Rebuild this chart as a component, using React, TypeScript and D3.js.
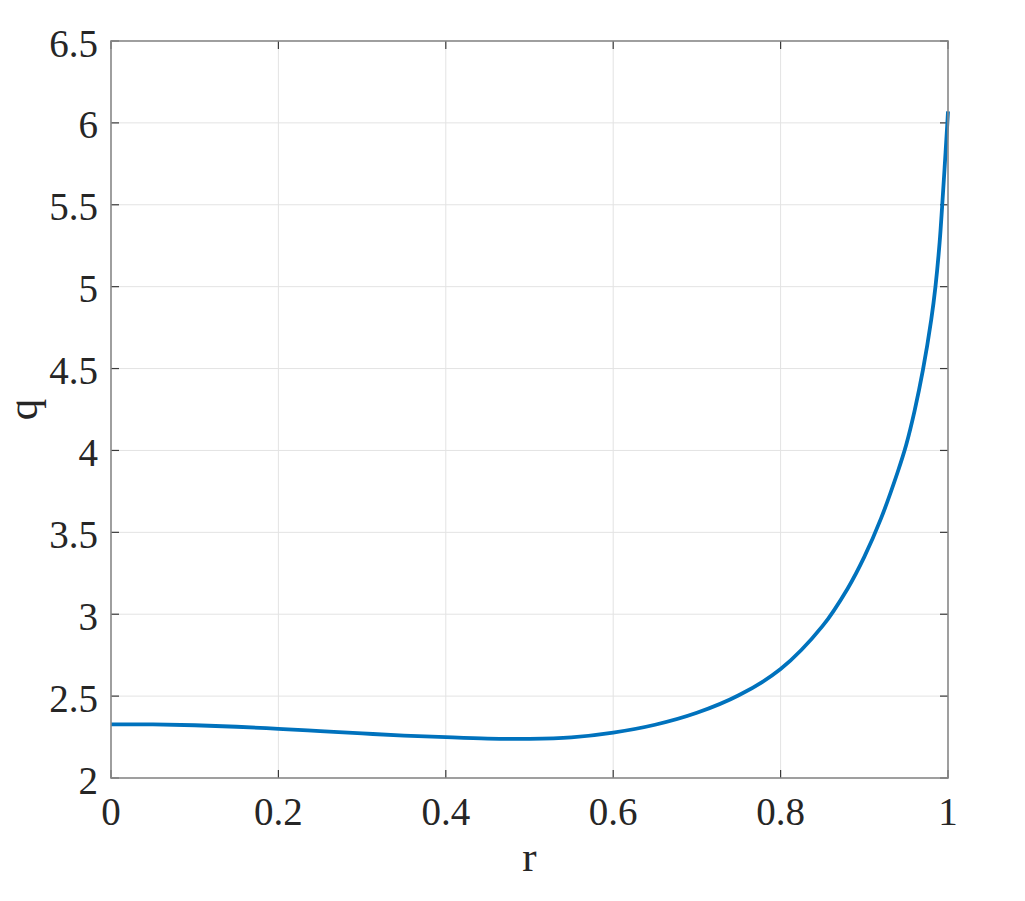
import { useEffect, useRef } from "react";
import * as d3 from "d3";

// radius samples and q values
const rValues = [0, 0.05, 0.1, 0.15, 0.2, 0.25, 0.3, 0.35, 0.4, 0.45, 0.5, 0.55, 0.6, 0.65, 0.7, 0.75, 0.8, 0.85, 0.88, 0.9, 0.92, 0.94, 0.95, 0.96, 0.97, 0.98, 0.985, 0.99, 0.993, 0.996, 0.999, 1];
const qValues = [2.328, 2.327, 2.322, 2.313, 2.3, 2.286, 2.272, 2.259, 2.249, 2.241, 2.239, 2.248, 2.277, 2.325, 2.398, 2.505, 2.665, 2.927, 3.156, 3.35, 3.585, 3.87, 4.033, 4.24, 4.49, 4.8, 5.0, 5.27, 5.49, 5.73, 5.98, 6.07];

const xTicks = [0, 0.2, 0.4, 0.6, 0.8, 1];
const yTicks = [2, 2.5, 3, 3.5, 4, 4.5, 5, 5.5, 6, 6.5];
const xLabel = "r";
const yLabel = "q";

export default function App() {
  const ref = useRef<SVGSVGElement>(null);

  useEffect(() => {
    const width = 1025;
    const height = 901;
    const margin = { top: 41, right: 77, bottom: 123, left: 111 };
    const svg = d3.select(ref.current);
    svg.selectAll("*").remove();

    const x = d3.scaleLinear().domain([0, 1]).range([margin.left, width - margin.right]);
    const y = d3.scaleLinear().domain([2, 6.5]).range([height - margin.bottom, margin.top]);
    const [x0, x1] = x.range();
    const [y0, y1] = y.range();

    const font = "'Liberation Serif', 'Times New Roman', serif";
    const tickLen = 8;

    // grid
    const grid = svg.append("g").attr("stroke", "#e3e3e3").attr("stroke-width", 1);
    xTicks.slice(1, -1).forEach(t => {
      grid.append("line").attr("x1", x(t)).attr("x2", x(t)).attr("y1", y0).attr("y2", y1);
    });
    yTicks.slice(1, -1).forEach(t => {
      grid.append("line").attr("x1", x0).attr("x2", x1).attr("y1", y(t)).attr("y2", y(t));
    });

    // ticks, inward on all four sides
    const ticks = svg.append("g").attr("stroke", "#3a3a3a").attr("stroke-width", 1.2);
    xTicks.forEach(t => {
      ticks.append("line").attr("x1", x(t)).attr("x2", x(t)).attr("y1", y0).attr("y2", y0 - tickLen);
      ticks.append("line").attr("x1", x(t)).attr("x2", x(t)).attr("y1", y1).attr("y2", y1 + tickLen);
    });
    yTicks.forEach(t => {
      ticks.append("line").attr("x1", x0).attr("x2", x0 + tickLen).attr("y1", y(t)).attr("y2", y(t));
      ticks.append("line").attr("x1", x1).attr("x2", x1 - tickLen).attr("y1", y(t)).attr("y2", y(t));
    });

    // curve
    const line = d3.line<number>()
      .x((_, i) => x(rValues[i]))
      .y(d => y(d))
      .curve(d3.curveCatmullRom.alpha(0.5));
    svg.append("path")
      .datum(qValues)
      .attr("d", line)
      .attr("fill", "none")
      .attr("stroke", "#0072BD")
      .attr("stroke-width", 3.8);

    // box
    svg.append("rect")
      .attr("x", x0).attr("y", y1)
      .attr("width", x1 - x0).attr("height", y0 - y1)
      .attr("fill", "none")
      .attr("stroke", "#878787")
      .attr("stroke-width", 1.6);

    // tick labels
    svg.append("g").selectAll("text")
      .data(xTicks)
      .enter().append("text")
      .attr("x", d => x(d))
      .attr("y", y0 + 47)
      .attr("text-anchor", "middle")
      .attr("fill", "#262626")
      .style("font-family", font)
      .style("font-size", "39px")
      .text(d => String(d));

    svg.append("g").selectAll("text")
      .data(yTicks)
      .enter().append("text")
      .attr("x", x0 - 13)
      .attr("y", d => y(d) + 15.5)
      .attr("text-anchor", "end")
      .attr("fill", "#262626")
      .style("font-family", font)
      .style("font-size", "39px")
      .text(d => String(d));

    // axis labels
    svg.append("text")
      .attr("x", (x0 + x1) / 2)
      .attr("y", 871)
      .attr("text-anchor", "middle")
      .attr("fill", "#262626")
      .style("font-family", font)
      .style("font-size", "43px")
      .text(xLabel);

    svg.append("text")
      .attr("transform", `translate(37,${(y0 + y1) / 2}) rotate(-90)`)
      .attr("text-anchor", "middle")
      .attr("fill", "#262626")
      .style("font-family", font)
      .style("font-size", "43px")
      .text(yLabel);
  }, []);

  return (
    <svg
      ref={ref}
      width={1025}
      height={901}
      style={{ position: "absolute", left: 0, top: 0, background: "#fff" }}
    />
  );
}
